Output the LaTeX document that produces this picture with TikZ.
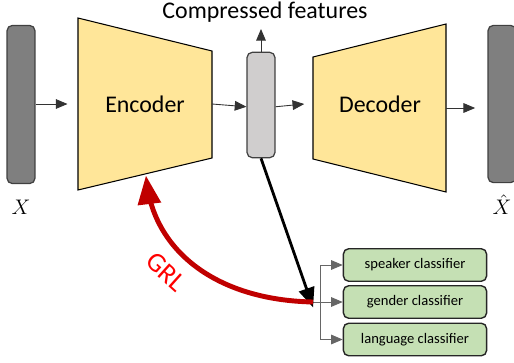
\documentclass[tikz,border=0pt]{standalone}
\usepackage{fontspec}
\setmainfont{Carlito}
\usepackage{tikz}
\usetikzlibrary{arrows}

\definecolor{encfill}{HTML}{FFE699}
\definecolor{bargray}{HTML}{7F7F7F}
\definecolor{featgray}{HTML}{D0CECE}
\definecolor{clsgreen}{HTML}{C5E0B4}
\definecolor{grldark}{HTML}{C00000}

\tikzset{
  bar/.style={draw=black!75, line width=0.7pt, rounded corners=3pt, inner sep=0pt,
    minimum width=15.9pt},
  classbox/.style={draw=black!85, fill=clsgreen, line width=0.8pt, rounded corners=3pt,
    minimum width=81.5pt, minimum height=18.5pt, inner sep=0pt, font=\fontsize{8.3}{10}\selectfont},
  flow/.style={->, line width=0.5pt, black!80},
  bigtext/.style={font=\fontsize{13.6}{16}\selectfont}
}

\begin{document}
\begin{tikzpicture}[x=0.02cm, y=-0.02cm, >=triangle 45]
      \useasboundingbox (0,0) rectangle (514,362);
      % encoder and decoder
      \draw[fill=encfill, line width=0.6pt] (78,18) -- (212,51) -- (212,158) -- (78,190) -- cycle;
      \draw[fill=encfill, line width=0.6pt] (313,57) -- (446,24) -- (446,192) -- (313,159) -- cycle;
      \node[bigtext] (enc) at (145,104) {Encoder};
      \node[bigtext] (dec) at (380,104) {Decoder};
      \coordinate (encL) at (78,104);
      \coordinate (encR) at (212,104);
      \coordinate (decL) at (313,104);
      \coordinate (decR) at (446,108);
      \coordinate (encB) at (146,176);
      % input, features, output
      \node[bar, fill=bargray, minimum height=90pt] (x) at (21,104.5) {};
      \node[bar, fill=featgray, minimum height=60pt] (feat) at (261,105) {};
      \node[bar, fill=bargray, minimum height=89.5pt] (xhat) at (502,104) {};
      \node[font=\fontsize{13}{15}\selectfont, inner sep=1pt] (xlab) at (21,207) {$X$};
      \node[font=\fontsize{13}{15}\selectfont, inner sep=1pt] (xhatlab) at (502,205) {$\hat{X}$};
      \node[bigtext] (comp) at (265,12) {Compressed features};
      \coordinate (compin) at (261,29);
      \draw[flow] (x.east |- encL) -- ([xshift=-6]encL); % X -> encoder
      \draw[flow] (encR) -- ([yshift=-1]feat.west); % encoder -> features
      \draw[flow] ([yshift=-1]feat.east) -- ([xshift=-5]decL); % features -> decoder
      \draw[flow] (decR) -- ([xshift=-7]xhat.west |- decR); % decoder -> X hat
      \draw[flow] (feat.north) -- (compin);
      % classifiers
      \node[classbox] (spk) at (415,265) {speaker classifier};
      \node[classbox] (gen) at (415,302) {gender classifier};
      \node[classbox] (lang) at (415,339.5) {language classifier};
      \coordinate (hit) at (313,302);
      \coordinate (split) at (320,302);
      \draw[line width=0.5pt, black!60] (hit) -- (split);
      \draw[flow, black!60] (split) |- (spk.west);
      \draw[flow, black!60] (split) -- (gen.west);
      \draw[flow, black!60] (split) |- (lang.west);
      \draw[->, line width=1.6pt] (feat.south) -- ([yshift=-3]hit); % features -> classifiers
      % gradient reversal
      \draw[->, grldark, line width=2.8pt] (hit) .. controls (215,300) and (155,250) .. (encB);
      \node[font=\fontsize{15.5}{18}\selectfont, text=red, rotate=-42, inner sep=0pt] (grl) at (166,272) {GRL};
    \end{tikzpicture}
\end{document}
